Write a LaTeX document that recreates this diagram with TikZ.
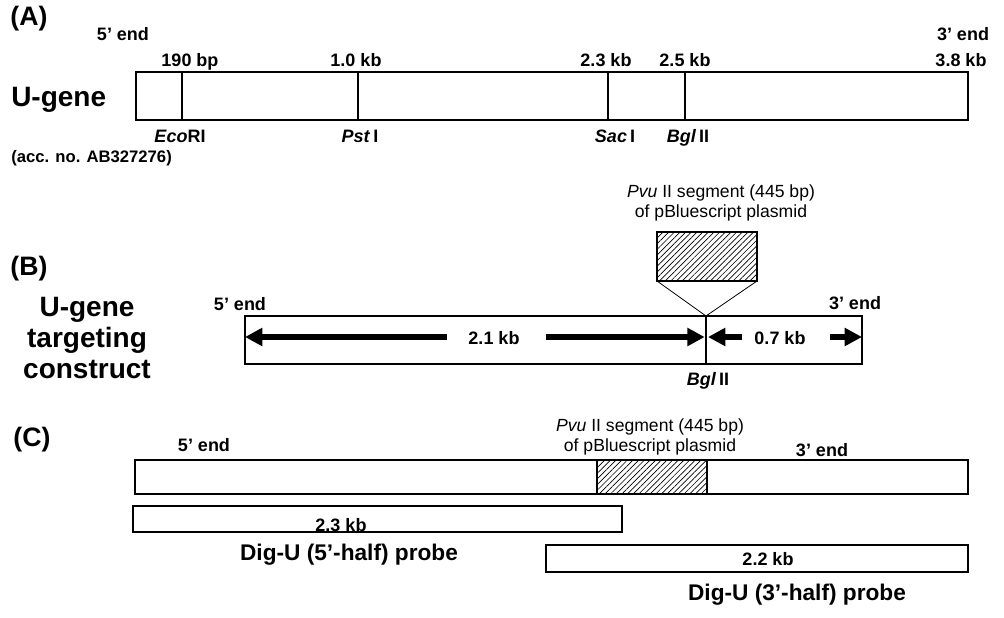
\documentclass[tikz,border=0pt]{standalone}
\usepackage{fontspec}
\setmainfont{Liberation Sans}
\usetikzlibrary{arrows.meta,patterns.meta}
\tikzset{
  genebox/.style={draw, line width=1.3pt, inner sep=0pt, outer sep=0pt, anchor=north west},
  probebox/.style={draw, line width=1.1pt, inner sep=0pt, outer sep=0pt, anchor=north west},
  insertbox/.style={draw, line width=1pt, inner sep=0pt, outer sep=0pt, anchor=north west, pattern={Lines[angle=45, distance=3pt, line width=0.5pt]}},
  siteline/.style={line width=1pt},
  panellabel/.style={font=\fontsize{20}{22}\selectfont\bfseries, inner sep=0pt, text height=1.5ex, text depth=0.25ex},
  namelabel/.style={font=\fontsize{21}{23.5}\selectfont\bfseries, align=center},
  poslabel/.style={font=\fontsize{13.5}{15}\selectfont\bfseries, inner sep=0pt, text height=1.5ex, text depth=0.25ex},
  acclabel/.style={font=\fontsize{12.5}{14}\selectfont\bfseries, inner sep=0pt, text height=1.5ex, text depth=0.25ex},
  seglabel/.style={font=\fontsize{13.2}{14.5}\selectfont, align=center, inner sep=0pt},
  probelabel/.style={font=\fontsize{17}{19}\selectfont\bfseries, inner sep=0pt, text height=1.5ex, text depth=0.25ex},
  dimarrow/.style={line width=4pt, -{Triangle[length=13pt, width=13pt]}},
  joinline/.style={line width=0.6pt}
}

\begin{document}
\begin{tikzpicture}[x=0.75pt, y=-0.75pt]
  \useasboundingbox (0,0) rectangle (1004,618);
  % (A) U-gene
  \node[panellabel] (lblA) at (29,21) {(A)};
  \node[namelabel, anchor=west, inner sep=0pt, text height=1.5ex, text depth=0.25ex] (nameA) at (11,102) {U-gene};
  \node[acclabel, anchor=west] (accA) at (11,158) {(acc. no. AB327276)};
  \node[poslabel] (endA5) at (123,36) {5' end};
  \node[poslabel] (endA3) at (963,36) {3' end};
  \node[genebox, minimum width=624pt, minimum height=36pt] (geneA) at (136,72) {};
  \foreach \x in {182,358,608,685}
    \draw[siteline] (\x,72) -- (\x,120);
  \node[poslabel] (posA1) at (190,62) {190 bp};
  \node[poslabel] (posA2) at (356,62) {1.0 kb};
  \node[poslabel] (posA3) at (606,62) {2.3 kb};
  \node[poslabel] (posA4) at (685,62) {2.5 kb};
  \node[poslabel] (posA5) at (961,62) {3.8 kb};
  \node[poslabel] (siteA1) at (180,138) {\textit{Eco}RI};
  \node[poslabel] (siteA2) at (360,138) {\textit{Pst}\,I};
  \node[poslabel] (siteA3) at (615,138) {\textit{Sac}\,I};
  \node[poslabel] (siteA4) at (688,138) {\textit{Bgl}\,II};

  % (B) targeting construct
  \node[panellabel] (lblB) at (29,271) {(B)};
  \node[namelabel] (nameB) at (87,338) {U-gene\\targeting\\construct};
  \node[seglabel] (segB) at (721,203) {\textit{Pvu} II segment (445 bp)\\of pBluescript plasmid};
  \node[insertbox, minimum width=75pt, minimum height=36.75pt] (insB) at (657,232) {};
  \node[poslabel] (endB5) at (240,306) {5' end};
  \node[poslabel] (endB3) at (855,305) {3' end};
  \node[genebox, minimum width=462.75pt, minimum height=36pt] (geneB) at (245,316) {};
  \coordinate (siteB) at (706,316);
  \draw[joinline] (insB.south west) -- (siteB) -- (insB.south east);
  \draw[line width=2.2pt] (siteB) -- (siteB |- geneB.south);
  \coordinate (armL1) at (447,337);
  \coordinate (armL2) at (546,337);
  \coordinate (armR1) at (742,337);
  \coordinate (armR2) at (830,337);
  \draw[dimarrow] (armL1) -- (armL1 -| geneB.west);
  \draw[dimarrow] (armL2) -- ([xshift=-1pt]siteB |- armL2);
  \draw[dimarrow] (armR1) -- ([xshift=1.5pt]siteB |- armR1);
  \draw[dimarrow] (armR2) -- (armR2 -| geneB.east);
  \node[poslabel] (lenB1) at (494,340) {2.1 kb};
  \node[poslabel] (lenB2) at (780,340) {0.7 kb};
  \node[poslabel] (siteB1) at (708,381) {\textit{Bgl}\,II};

  % (C) probes
  \node[panellabel] (lblC) at (32,442) {(C)};
  \node[poslabel] (endC5) at (204,447) {5' end};
  \node[seglabel] (segC) at (650,437) {\textit{Pvu} II segment (445 bp)\\of pBluescript plasmid};
  \node[poslabel] (endC3) at (822,452) {3' end};
  \node[genebox, line width=1.1pt, minimum width=624.75pt, minimum height=25.5pt] (geneC) at (135,460) {};
  \node[insertbox, minimum width=82.5pt, minimum height=25.5pt] (insC) at (597,460) {};
  \node[probebox, minimum width=366.75pt, minimum height=19.5pt] (probe5) at (133,506) {};
  \node[poslabel] (lenC1) at (341,527) {2.3 kb};
  \node[probelabel] (nameC1) at (349,556) {Dig-U (5'-half) probe};
  \node[probebox, minimum width=316.5pt, minimum height=20.25pt] (probe3) at (546,545) {};
  \node[poslabel] (lenC2) at (768,561) {2.2 kb};
  \node[probelabel] (nameC2) at (797,596) {Dig-U (3'-half) probe};
\end{tikzpicture}
\end{document}
